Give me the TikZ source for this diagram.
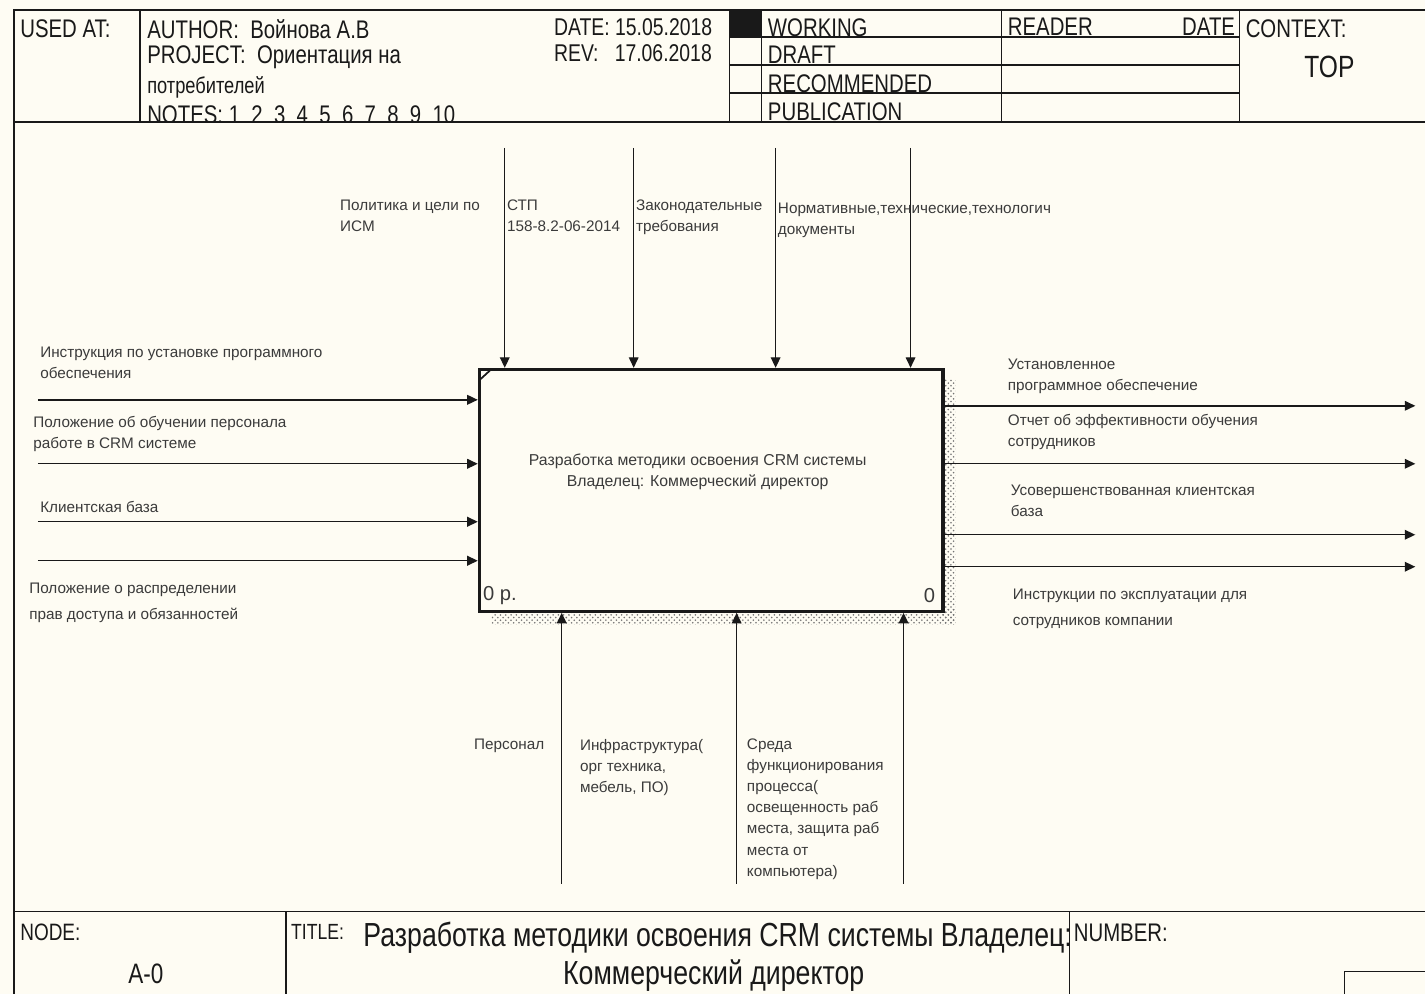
\documentclass[tikz,border=0pt]{standalone}
\usepackage{fontspec}
\setmainfont{Liberation Sans}
\newfontfamily\narrowfont[FakeStretch=0.8]{Liberation Sans}
\usetikzlibrary{arrows.meta,patterns}
\definecolor{paper}{RGB}{254,252,243}
\definecolor{ink}{RGB}{25,25,25}

\begin{document}
\begin{tikzpicture}[x=0.02cm,y=-0.02cm,
  frame/.style={line width=.8pt, draw=ink},
  arr/.style={line width=.8pt, draw=ink, -{Triangle[length=6pt,width=5.5pt]}},
  lbl/.style={anchor=north west, inner sep=0, align=left, text=ink!85, font=\fontsize{8.7}{12}\selectfont},
  hd/.style={anchor=north west, inner sep=0, text=ink, font=\narrowfont\fontsize{14.5}{17}\selectfont}]

\fill[paper] (0,0) rectangle (1426,994);

% header
\node[hd] (usedat) at (20,19) {USED AT:};
\node[hd] (author) at (147,19) {AUTHOR:\ \ Войнова А.В};
\node[hd] (project) at (147,45) {PROJECT:\ \ Ориентация на};
\node[hd, font=\narrowfont\fontsize{13}{15}\selectfont] (project2) at (147,76) {потребителей};
\node[hd] (notes) at (147,105) {NOTES:\ 1\ \ 2\ \ 3\ \ 4\ \ 5\ \ 6\ \ 7\ \ 8\ \ 9\ \ 10};
\node[hd, font=\narrowfont\fontsize{13.8}{16}\selectfont] (date) at (554,18) {DATE: 15.05.2018};
\node[hd, font=\narrowfont\fontsize{13.8}{16}\selectfont] (rev) at (554,44) {REV:\ \ \ 17.06.2018};
\node[hd] (working) at (768,18) {WORKING};
\node[hd] (draft) at (768,46) {DRAFT};
\node[hd] (recom) at (768,74) {RECOMMENDED};
\node[hd] (publ) at (768,102) {PUBLICATION};
\node[hd] (reader) at (1008,18) {READER};
\node[hd, anchor=north east] (rdate) at (1236,18) {DATE};
\node[hd] (context) at (1246,19) {CONTEXT:};
\node[hd, anchor=center, font=\narrowfont\fontsize{17.5}{20}\selectfont] (top) at (1330,67) {TOP};

\fill[paper] (14,122) rectangle (1426,130);
\draw[frame] (14,994) -- (14,10) -- (1426,10);
\draw[frame] (14,122) -- (1426,122);
\foreach \x in {140,730,762,1002,1240}
	\draw[frame] (\x,10) -- (\x,122);
\foreach \y in {37,65,93}
	\draw[frame] (730,\y) -- (1240,\y);
\fill[ink] (730,10) rectangle (762,37);

% footer
\draw[frame] (14,912) -- (1426,912);
\foreach \x in {286,1070}
	\draw[frame] (\x,912) -- (\x,994);
\draw[frame] (1345,994) -- (1345,972) -- (1426,972);
\node[hd, font=\narrowfont\fontsize{13.5}{15}\selectfont] (nodelbl) at (20,924) {NODE:};
\node[hd, anchor=center, font=\narrowfont\fontsize{16}{18}\selectfont] (nodeno) at (146,974) {A-0};
\node[hd, font=\narrowfont\fontsize{12.5}{14}\selectfont] (titlelbl) at (291,924) {TITLE:};
\node[hd, anchor=center, font=\narrowfont\fontsize{19}{22}\selectfont] (title1) at (718,938) {Разработка методики освоения CRM системы Владелец:};
\node[hd, anchor=center, font=\narrowfont\fontsize{19}{22}\selectfont] (title2) at (714,976) {Коммерческий директор};
\node[hd, font=\narrowfont\fontsize{14.5}{16}\selectfont] (numlbl) at (1074,924) {NUMBER:};

% activity box with shadow
\fill[pattern=crosshatch dots, pattern color=black!55] (942,380) rectangle (956,625);
\fill[pattern=crosshatch dots, pattern color=black!55] (492,610) rectangle (956,625);
\node[draw=ink, line width=1.8pt, fill=paper, minimum width=9.28cm, minimum height=4.84cm, inner sep=0, anchor=north west] (box) at (478,368) {};
\draw[line width=1pt, ink] (480,380) -- (492,369);
\node[lbl, anchor=center, align=center, font=\fontsize{9}{12}\selectfont] (boxtxt) at (698,472) {Разработка методики освоения CRM системы\\Владелец: Коммерческий директор};
\node[lbl, anchor=west, font=\fontsize{11.5}{13}\selectfont] (boxnum) at (483,596) {0 р.};
\node[lbl, anchor=east, font=\fontsize{11.5}{13}\selectfont] (boxcost) at (936,596) {0};

% controls
\foreach \x/\n in {505/c1, 634/c2, 776/c3, 911/c4} {
	\coordinate (\n) at (\x,148);
	\draw[arr] (\n) -- (\n |- box.north);
}
\node[lbl] (c1txt) at (340,200) {Политика и цели по\\ИСМ};
\node[lbl] (c2txt) at (507,200) {СТП\\158-8.2-06-2014};
\node[lbl] (c3txt) at (636,200) {Законодательные\\требования};
\node[lbl] (c4txt) at (778,203) {Нормативные,технические,технологич\\документы};

% inputs
\foreach \y/\n in {400/i1, 464/i2, 522/i3, 561/i4} {
	\coordinate (\n) at (38,\y);
	\draw[arr] (\n) -- (\n -| box.west);
}
\node[lbl] (i1txt) at (40,347) {Инструкция по установке программного\\обеспечения};
\node[lbl] (i2txt) at (33,416) {Положение об обучении персонала\\работе в CRM системе};
\node[lbl] (i3txt) at (40,501) {Клиентская база};
\node[lbl, font=\fontsize{8.7}{14.7}\selectfont] (i4txt) at (29,583) {Положение о распределении\\прав доступа и обязанностей};

% outputs
\foreach \y/\n in {406/o1, 464/o2, 535/o3, 567/o4} {
	\coordinate (\n) at (1416,\y);
	\draw[arr] (\n -| box.east) -- (\n);
}
\node[lbl] (o1txt) at (1008,359) {Установленное\\программное обеспечение};
\node[lbl] (o2txt) at (1008,414) {Отчет об эффективности обучения\\сотрудников};
\node[lbl] (o3txt) at (1011,485) {Усовершенствованная клиентская\\база};
\node[lbl, font=\fontsize{8.7}{14.7}\selectfont] (o4txt) at (1013,589) {Инструкции по эксплуатации для\\сотрудников компании};

% mechanisms
\foreach \x/\n in {562/m1, 737/m2, 904/m3} {
	\coordinate (\n) at (\x,884);
	\draw[arr] (\n) -- (\n |- box.south);
}
\node[lbl] (m1txt) at (474,739) {Персонал};
\node[lbl] (m2txt) at (580,739) {Инфраструктура(\\орг техника,\\мебель, ПО)};
\node[lbl] (m3txt) at (747,739) {Среда\\функционирования\\процесса(\\освещенность раб\\места, защита раб\\места от\\компьютера)};

\end{tikzpicture}
\end{document}
